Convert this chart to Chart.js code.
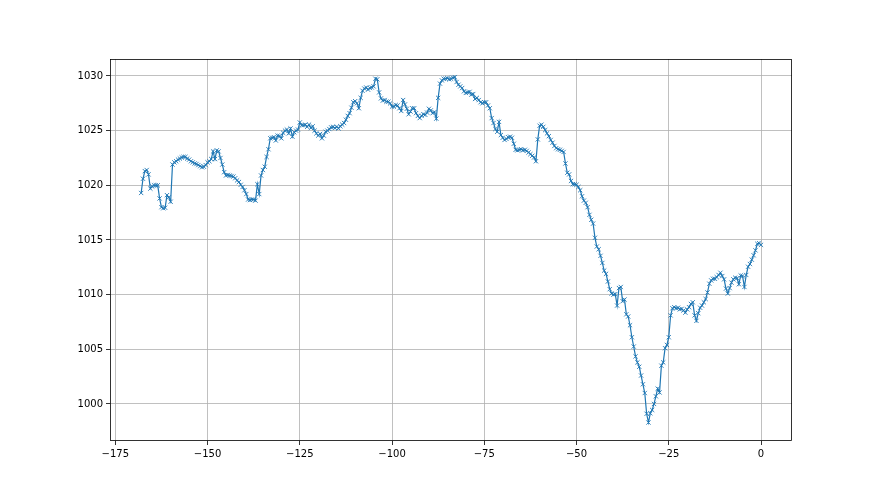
<!DOCTYPE html>
<html><head><meta charset="utf-8">
<style>html,body{margin:0;padding:0;background:#fff}#wrap{width:880px;height:495px}</style>
<script src="https://cdn.jsdelivr.net/npm/chart.js"></script>
</head><body>
<div id="wrap"><canvas id="c" width="880" height="495"></canvas></div>
<script>
const hours = [
-168,-167.5,-167,-166.5,-166,-165.5,-165,-164.5,-164,-163.5,
-163,-162.5,-162,-161.5,-161,-160.5,-160,-159.5,-159,-158.5,
-158,-157.5,-157,-156.5,-156,-155.5,-155,-154.5,-154,-153.5,
-153,-152.5,-152,-151.5,-151,-150.5,-150,-149.5,-149,-148.5,
-148,-147.5,-147,-146.5,-146,-145.5,-145,-144.5,-144,-143.5,
-143,-142.5,-142,-141.5,-141,-140.5,-140,-139.5,-139,-138.5,
-138,-137.5,-137,-136.5,-136,-135.5,-135,-134.5,-134,-133.5,
-133,-132.5,-132,-131.5,-131,-130.5,-130,-129.5,-129,-128.5,
-128,-127.5,-127,-126.5,-126,-125.5,-125,-124.5,-124,-123.5,
-123,-122.5,-122,-121.5,-121,-120.5,-120,-119.5,-119,-118.5,
-118,-117.5,-117,-116.5,-116,-115.5,-115,-114.5,-114,-113.5,
-113,-112.5,-112,-111.5,-111,-110.5,-110,-109.5,-109,-108.5,
-108,-107.5,-107,-106.5,-106,-105.5,-105,-104.5,-104,-103.5,
-103,-102.5,-102,-101.5,-101,-100.5,-100,-99.5,-99,-98.5,
-98,-97.5,-97,-96.5,-96,-95.5,-95,-94.5,-94,-93.5,
-93,-92.5,-92,-91.5,-91,-90.5,-90,-89.5,-89,-88.5,
-88,-87.5,-87,-86.5,-86,-85.5,-85,-84.5,-84,-83.5,
-83,-82.5,-82,-81.5,-81,-80.5,-80,-79.5,-79,-78.5,
-78,-77.5,-77,-76.5,-76,-75.5,-75,-74.5,-74,-73.5,
-73,-72.5,-72,-71.5,-71,-70.5,-70,-69.5,-69,-68.5,
-68,-67.5,-67,-66.5,-66,-65.5,-65,-64.5,-64,-63.5,
-63,-62.5,-62,-61.5,-61,-60.5,-60,-59.5,-59,-58.5,
-58,-57.5,-57,-56.5,-56,-55.5,-55,-54.5,-54,-53.5,
-53,-52.5,-52,-51.5,-51,-50.5,-50,-49.5,-49,-48.5,
-48,-47.5,-47,-46.5,-46,-45.5,-45,-44.5,-44,-43.5,
-43,-42.5,-42,-41.5,-41,-40.5,-40,-39.5,-39,-38.5,
-38,-37.5,-37,-36.5,-36,-35.5,-35,-34.5,-34,-33.5,
-33,-32.5,-32,-31.5,-31,-30.5,-30,-29.5,-29,-28.5,
-28,-27.5,-27,-26.5,-26,-25.5,-25,-24.5,-24,-23.5,
-23,-22.5,-22,-21.5,-21,-20.5,-20,-19.5,-19,-18.5,
-18,-17.5,-17,-16.5,-16,-15.5,-15,-14.5,-14,-13.5,
-13,-12.5,-12,-11.5,-11,-10.5,-10,-9.5,-9,-8.5,
-8,-7.5,-7,-6.5,-6,-5.5,-5,-4.5,-4,-3.5,
-3,-2.5,-2,-1.5,-1,-0.5,0
];
const pressure = [
1019.3,1020.6,1021.3,1021.4,1021.0,1019.7,1019.9,1020.0,1020.0,1020.0,
1018.8,1018.0,1017.9,1017.95,1019.1,1018.9,1018.5,1021.9,1022.1,1022.2,
1022.35,1022.45,1022.55,1022.6,1022.6,1022.45,1022.35,1022.2,1022.1,1022.0,
1021.95,1021.85,1021.75,1021.65,1021.7,1021.85,1022.1,1022.2,1022.4,1023.1,
1022.4,1023.2,1023.1,1022.5,1021.9,1021.2,1020.9,1020.95,1020.9,1020.85,
1020.8,1020.65,1020.45,1020.3,1020.05,1019.85,1019.55,1019.2,1018.7,1018.65,
1018.7,1018.7,1018.6,1020.1,1019.2,1020.9,1021.4,1021.7,1022.6,1023.3,
1024.3,1024.35,1024.4,1024.1,1024.55,1024.5,1024.3,1024.8,1025.0,1025.1,
1024.75,1025.2,1024.45,1024.85,1025.0,1025.1,1025.75,1025.5,1025.5,1025.55,
1025.35,1025.55,1025.25,1025.4,1025.0,1024.75,1024.55,1024.7,1024.3,1024.55,
1024.9,1025.0,1025.15,1025.3,1025.35,1025.25,1025.35,1025.2,1025.4,1025.55,
1025.7,1026.0,1026.35,1026.6,1027.1,1027.6,1027.7,1027.5,1027.05,1028.0,
1028.65,1028.85,1028.95,1028.75,1028.9,1028.95,1029.05,1029.75,1029.7,1028.5,
1027.95,1027.75,1027.8,1027.65,1027.65,1027.5,1027.2,1027.2,1027.35,1027.3,
1027.05,1026.8,1027.8,1027.4,1027.0,1026.5,1026.75,1027.05,1027.05,1026.6,
1026.35,1026.15,1026.35,1026.5,1026.45,1026.65,1027.0,1026.85,1026.6,1026.7,
1026.1,1028.0,1029.3,1029.6,1029.75,1029.75,1029.8,1029.7,1029.75,1029.85,
1029.9,1029.45,1029.2,1029.05,1028.9,1028.6,1028.45,1028.5,1028.55,1028.3,
1028.35,1027.9,1028.0,1027.8,1027.6,1027.5,1027.6,1027.6,1027.3,1027.05,
1026.15,1025.7,1025.15,1024.9,1025.8,1024.6,1024.35,1024.15,1024.25,1024.4,
1024.45,1024.35,1023.8,1023.25,1023.2,1023.25,1023.3,1023.2,1023.25,1023.15,
1023.0,1022.85,1022.7,1022.55,1022.2,1024.2,1025.45,1025.55,1025.35,1025.05,
1024.75,1024.5,1024.15,1023.9,1023.6,1023.4,1023.3,1023.25,1023.15,1023.05,
1022.0,1021.15,1021.0,1020.4,1020.1,1020.1,1020.05,1019.85,1019.55,1019.0,
1018.6,1018.4,1018.0,1017.3,1016.85,1016.5,1015.2,1014.4,1014.15,1013.55,
1012.9,1012.2,1011.9,1011.2,1010.5,1010.1,1010.0,1010.05,1009.0,1010.6,
1010.7,1009.4,1009.55,1008.2,1008.0,1007.2,1006.1,1005.25,1004.35,1003.8,
1003.4,1002.6,1001.8,1001.0,999.1,998.3,999.15,999.45,1000.0,1000.7,
1001.4,1001.05,1003.5,1003.8,1005.1,1005.4,1006.1,1008.1,1008.75,1008.85,
1008.75,1008.8,1008.65,1008.7,1008.55,1008.35,1008.65,1008.85,1009.15,1009.3,
1008.1,1007.6,1008.3,1008.8,1009.0,1009.3,1009.6,1010.2,1011.0,1011.3,
1011.45,1011.45,1011.6,1011.8,1012.0,1011.7,1011.4,1010.55,1010.1,1010.6,
1011.1,1011.4,1011.55,1011.5,1010.95,1011.75,1011.7,1010.7,1011.8,1012.55,
1012.8,1013.2,1013.6,1014.05,1014.65,1014.7,1014.55
];
const xTicks = [-175,-150,-125,-100,-75,-50,-25,0];
const yTicks = [1000,1005,1010,1015,1020,1025,1030];

const fmt = v => String(v).replace('-', '\u2212');
const frame = {
  id: 'frame',
  afterDraw(chart) {
    const a = chart.chartArea, ctx = chart.ctx;
    ctx.save();
    ctx.strokeStyle = '#000';
    ctx.lineWidth = 0.8;
    ctx.strokeRect(Math.round(a.left) + 0.5, Math.round(a.top) + 0.5,
      Math.round(a.right - a.left) - 1, Math.round(a.bottom - a.top) - 1);
    ctx.restore();
  }
};

Chart.defaults.font.family = '"DejaVu Sans", sans-serif';
Chart.defaults.font.size = 10;
Chart.defaults.color = '#000';

new Chart(document.getElementById('c'), {
  type: 'line',
  data: {
    datasets: [{
      data: hours.map((h, i) => ({ x: h, y: pressure[i] })),
      borderColor: '#1f77b4',
      borderWidth: 1.2,
      pointStyle: 'crossRot',
      pointRadius: 3,
      pointBorderWidth: 0.9,
      pointBorderColor: '#1f77b4',
      pointBackgroundColor: '#1f77b4',
      tension: 0,
      fill: false
    }]
  },
  options: {
    responsive: false,
    animation: false,
    devicePixelRatio: 1,
    layout: { padding: { left: 0, top: 59, right: 88, bottom: 0 } },
    plugins: { legend: { display: false }, tooltip: { enabled: false } },
    scales: {
      x: {
        type: 'linear',
        min: -176.44, max: 8.4,
        afterBuildTicks: s => { s.ticks = xTicks.map(v => ({ value: v })); },
        afterFit: s => { s.height = 54; },
        border: { display: false },
        grid: { color: '#b0b0b0', lineWidth: 0.8, tickColor: '#000', tickLength: 4 },
        ticks: { callback: v => fmt(v), maxRotation: 0, padding: 3, autoSkip: false }
      },
      y: {
        type: 'linear',
        min: 996.61, max: 1031.555,
        afterBuildTicks: s => { s.ticks = yTicks.map(v => ({ value: v })); },
        afterFit: s => { s.width = 110; },
        border: { display: false },
        grid: { color: '#b0b0b0', lineWidth: 0.8, tickColor: '#000', tickLength: 4 },
        ticks: { callback: v => fmt(v), padding: 3, autoSkip: false }
      }
    }
  },
  plugins: [frame]
});
</script>
</body></html>
